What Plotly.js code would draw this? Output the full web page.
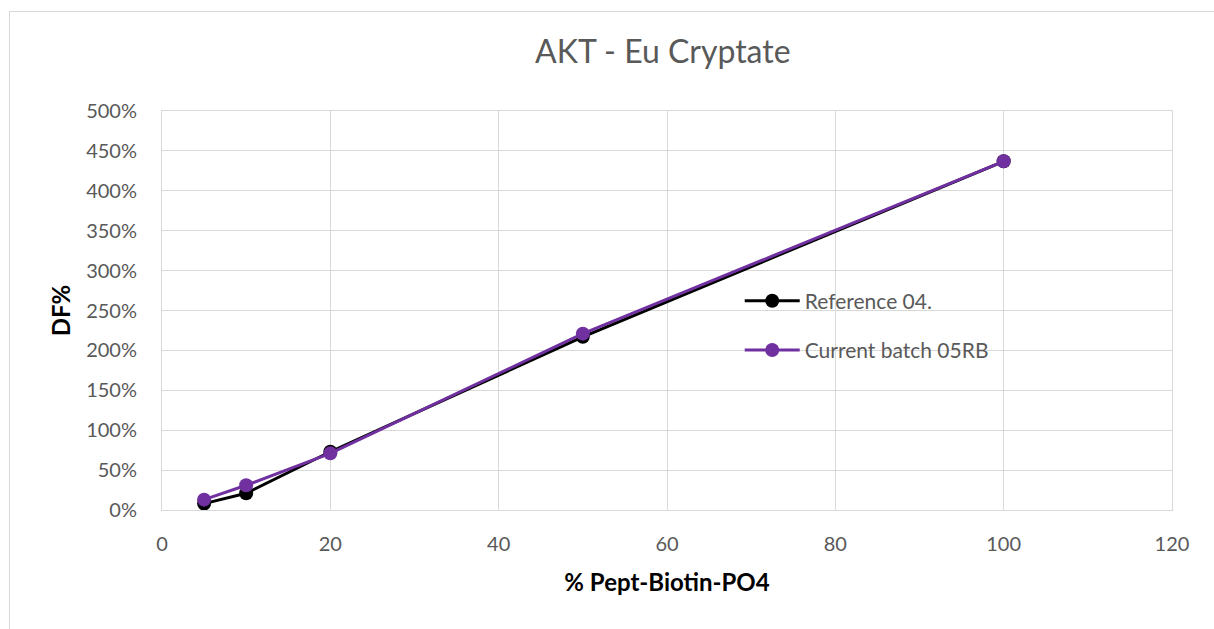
<!DOCTYPE html>
<html>
<head>
<meta charset="utf-8">
<script src="https://cdn.plot.ly/plotly-3.0.1.min.js"></script>
<style>
html,body{margin:0;padding:0;background:#fff;overflow:hidden;}
#frame{position:absolute;left:9px;top:11px;width:1300px;height:700px;border:1.5px solid #d9d9d9;box-sizing:border-box;}
#chart{position:absolute;left:0;top:0;width:1214px;height:629px;}
</style>
</head>
<body>
<div id="frame"></div>
<div id="chart"></div>
<script>
const xValues = [5, 10, 20, 50, 100];
const referenceName = "Reference 04.";
const referenceValues = [0.08, 0.21, 0.73, 2.17, 4.37];
const currentName = "Current batch 05RB";
const currentValues = [0.13, 0.31, 0.71, 2.21, 4.37];
const yTickVals = [0, 0.5, 1, 1.5, 2, 2.5, 3, 3.5, 4, 4.5, 5];
const xTickVals = [0, 20, 40, 60, 80, 100, 120];

const font = "Lato, 'Open Sans', 'Liberation Sans', sans-serif";

const traces = [
  {x: xValues, y: referenceValues, name: referenceName, legendgroup: "ref", type: "scatter", mode: "lines+markers",
   line: {color: "#000000", width: 3}, marker: {color: "#000000", size: 14}},
  {x: xValues, y: currentValues, name: currentName, legendgroup: "cur", type: "scatter", mode: "lines+markers",
   line: {color: "#7030A0", width: 3}, marker: {color: "#7030A0", size: 14}}
];

const layout = {
  width: 1214, height: 629,
  paper_bgcolor: "rgba(0,0,0,0)", plot_bgcolor: "#ffffff",
  margin: {l: 162, r: 42, t: 111, b: 119},
  font: {family: font, color: "#595959", size: 20},
  title: {text: "AKT - Eu Cryptate", x: 0.546, xanchor: "center", y: 0.918, yanchor: "middle",
          font: {family: font, size: 32, color: "#595959"}},
  xaxis: {range: [0, 120], tickvals: xTickVals, showgrid: true, gridcolor: "#d9d9d9", gridwidth: 1,
          zeroline: false, showline: true, linecolor: "#d9d9d9", mirror: true, ticks: "",
          ticklabelstandoff: 16,
          tickfont: {size: 20, color: "#595959"},
          title: {text: "<b>% Pept-Biotin-PO4</b>", font: {size: 24, color: "#000000"}, standoff: 20}},
  yaxis: {range: [0, 5], tickvals: yTickVals, tickformat: ".0%", showgrid: true, gridcolor: "#d9d9d9",
          gridwidth: 1, zeroline: false, showline: true, linecolor: "#d9d9d9", mirror: true, ticks: "",
          ticklabelstandoff: 20,
          tickfont: {size: 20, color: "#595959"},
          title: {text: "<b>DF%</b>", font: {size: 24, color: "#000000"}, standoff: 8}},
  showlegend: true,
  legend: {x: 0.572, y: 0.575, xanchor: "left", yanchor: "top", bgcolor: "rgba(0,0,0,0)",
           font: {size: 21, color: "#595959"}, itemwidth: 55, tracegroupgap: 19, traceorder: "grouped"}
};

Plotly.newPlot("chart", traces, layout, {displayModeBar: false, staticPlot: true});
</script>
</body>
</html>
